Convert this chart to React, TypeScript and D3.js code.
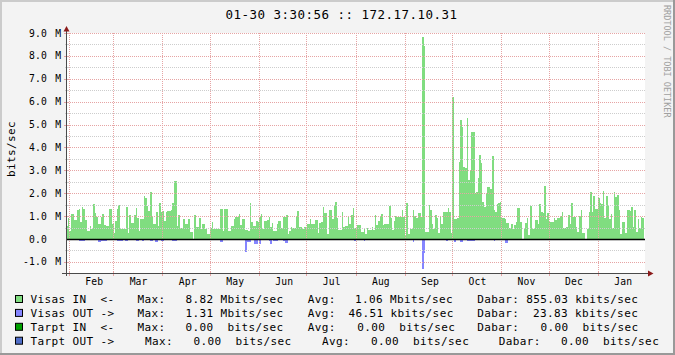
import React from "react";
import * as d3 from "d3";

const W = 675;
const H = 355;
const END = new Date(2011, 0, 30, 3, 30, 56);
const DAYS = 365;
const START = d3.timeDay.offset(END, -DAYS);

// Daily averages, Mbit/s
const visasIn: number[] = [
  0.57,
  0.93, 0.36, 1.09, 1.09, 0.83, 0.83, 1.27, 1.3, 0.76, 1.38,
  1.31, 0.83, 0.36, 0.36, 0.58, 0.44, 1.53, 1.15, 0.98, 0.65,
  0.65, 0.98, 1.09, 0.61, 0.57, 0.57, 1.31, 1.31, 0.64, 0.28,
  0.79, 1.3, 1.48, 0.42, 0.42, 0.45, 0.45, 1.41, 0.28, 1.05,
  0.68, 0.68, 1.05, 1.34, 0.9, 0.36, 0.86, 0.86, 1.88, 1.79,
  1.44, 1.24, 2.05, 0.98, 0.65, 0.65, 1.19, 0.57, 1.59, 1.19,
  1.22, 0.79, 1.16, 1.22, 1.22, 1.27, 1.59, 2.53, 2.53, 0.57,
  1.05, 0.49, 0.47, 0.86, 0.65, 0.64, 0.86, 0.32, 0.32, 0,
  1.05, 0.51, 0.51, 0.9, 0.44, 0.65, 0.65, 0.42, 0.22, 0.22,
  0.48,
  0.74, 0.42, 0.42, 0.42, 0.42, 1.3, 1.3, 0.35, 1.3, 1.3,
  0.35, 0.35, 0.57, 0.57, 0.86, 0.95, 0.95, 1.09, 0.61, 0.86,
  0.86, 0.39, 0.39, 0.35, 1.59, 0.76, 0.57, 0.57, 0.8, 0.76,
  0.98, 1.09, 0.42, 0.79, 0.79, 0.83, 0.98, 0.54, 0.68, 0.36,
  0.36, 0.65, 0.79, 0.79, 0.47, 0.95, 0.95, 1.05, 0.22, 0.35,
  0.54, 0.47, 0.47, 0.98, 1.24, 0.51, 0.51, 0.42, 0.54, 0.54,
  0.65, 0.65, 0.87, 0.65, 0.65, 0.83, 0.83, 0.28, 0.71, 0.76,
  1.41, 1.15, 1.15, 0.22, 1.27, 1.27, 0.86, 1.48, 1.6, 0.93,
  0.39, 0.39, 1.16, 0.54, 0.58, 0.58, 1.0, 0.65, 1.05, 1.34,
  0.47, 0.54, 0.61, 0.61, 0.32, 0.32, 0.42, 0.22, 0.47, 0.39,
  0.39, 0.51, 0.39, 1.05, 0.61, 0.79, 0.95, 1.09, 0.61, 0.65,
  0.65, 0.65, 1.44, 0.9, 0.39, 0.79, 1.0, 0.95, 0.95,
  0.98, 1.27, 0.98, 0.17, 1.56, 0.22, 0.42, 0.42, 1.27, 1.0,
  0.9, 1.12, 1.12, 0.98, 8.82, 8.43, 0.32, 0.32, 1.48, 1.27,
  0.66, 0.42, 1.05, 0.93, 0.28, 0.95, 0.66, 1.19, 1.19, 1.19,
  1.34, 1.19, 0.25, 6.22, 0.86, 0.86, 0.9, 3.38, 5.2, 4.9,
  3.16, 3.11, 5.27, 2.58, 3.01, 4.69, 4.69, 2.02, 2.07, 2.65,
  3.67, 3.3, 1.63, 1.41, 2.02, 2.29, 2.29, 2.17, 3.62, 1.27,
  1.19, 1.53, 1.56, 1.63, 0.9, 0.9, 0.86, 0.68, 0.71, 0.47,
  0.66, 0.42, 0.61, 0.76, 1.34,
  1.37, 0.76, 0, 0.48, 0.68, 0.93, 0.17, 1.46, 0.44, 0.44,
  0.83, 0.83, 0.65, 1.51, 1.19, 1.12, 2.31, 0.86, 1.12, 0.76,
  0.76, 0.76, 0.9, 0.83, 0.93, 0.93, 1.02, 1.16, 0.48, 0.48,
  0.54, 1.05, 0.65, 1.59, 0.98, 0.98, 0.54, 0.32, 1.0, 1.27,
  0.28, 0.28, 0, 0.44, 1.19, 2.07, 1.19, 1.88, 1.3, 1.3,
  1.8, 1.59, 1.53, 2.1, 0.9, 1.88, 1.46, 0.86, 1.08, 0.47,
  2.04, 1.85, 1.92, 1.27, 0.22, 0.73, 0.76, 0.28, 1.27, 1.27,
  1.24, 1.41, 0.54, 1.27, 0.32, 0.87, 0.47, 0.98, 0.9,
];

const visasOut: number[] = [
  0, 0, 0, 0, 0, 0, 0, 0, 0.07, 0.07,
  0.07, 0.07, 0, 0, 0, 0, 0, 0, 0, 0,
  0.12, 0.12, 0.07, 0.07, 0.07, 0.07, 0, 0, 0, 0,
  0.05, 0, 0.07, 0.07, 0.07, 0.07, 0, 0.07, 0.07, 0,
  0, 0, 0, 0, 0.07, 0.07, 0, 0, 0.07, 0,
  0, 0, 0, 0.07, 0.07, 0, 0.12, 0.12, 0, 0,
  0.07, 0.07, 0, 0, 0.06, 0, 0, 0.07, 0.07, 0.07,
  0, 0.05, 0, 0, 0, 0, 0, 0, 0, 0,
  0, 0, 0, 0, 0, 0, 0, 0, 0.06, 0,
  0, 0, 0, 0, 0, 0, 0, 0.12, 0.12, 0,
  0, 0, 0, 0, 0, 0, 0, 0, 0, 0,
  0, 0, 0, 0.55, 0.12, 0.12, 0.15, 0, 0, 0.22,
  0.22, 0.06, 0.23, 0.06, 0, 0, 0, 0, 0.07, 0.23,
  0, 0.07, 0.07, 0.09, 0, 0, 0, 0.09, 0.16, 0.16,
  0, 0, 0, 0, 0, 0, 0, 0, 0, 0,
  0, 0, 0, 0, 0, 0, 0, 0, 0, 0,
  0, 0.06, 0.06, 0.06, 0, 0, 0.06, 0, 0, 0,
  0.06, 0, 0, 0.06, 0, 0, 0, 0, 0, 0.06,
  0, 0, 0.09, 0, 0, 0.06, 0, 0, 0.07, 0,
  0, 0, 0, 0, 0, 0, 0, 0, 0, 0,
  0, 0, 0, 0, 0.06, 0, 0, 0, 0, 0,
  0, 0, 0, 0, 0, 0, 0, 0, 0, 0.12,
  0, 0, 0, 0, 0, 1.31, 0.63, 0, 0, 0,
  0, 0, 0, 0, 0, 0, 0, 0, 0, 0,
  0.07, 0, 0, 0, 0, 0.12, 0, 0, 0, 0.12,
  0.12, 0, 0, 0.07, 0.07, 0.07, 0.07, 0.07, 0, 0,
  0, 0, 0.06, 0, 0, 0, 0, 0, 0, 0,
  0.07, 0, 0, 0, 0, 0, 0, 0.16, 0.16, 0,
  0, 0, 0, 0, 0, 0, 0, 0, 0, 0,
  0, 0, 0, 0, 0, 0, 0, 0, 0, 0,
  0, 0, 0, 0, 0, 0, 0, 0, 0, 0,
  0.06, 0, 0, 0.06, 0.06, 0, 0, 0.06, 0.06, 0.06,
  0, 0, 0, 0, 0, 0, 0, 0, 0, 0,
  0, 0, 0, 0, 0, 0, 0.06, 0.06, 0.06, 0.06,
  0, 0, 0, 0, 0, 0, 0, 0.06, 0.06, 0,
  0.06, 0, 0.06, 0, 0.06, 0, 0, 0, 0, 0,
  0, 0, 0, 0, 0,
];

const Y_MIN = -1.485;
const Y_MAX = 9;
const yMajorTicks = [-1, 0, 1, 2, 3, 4, 5, 6, 7, 8, 9];
const yMinorTicks = [-1, -0.5, 0, 0.5, 1, 1.5, 2, 2.5, 3, 3.5, 4, 4.5, 5, 5.5, 6, 6.5, 7, 7.5, 8, 8.5, 9];

const TITLE = "01-30 3:30:56 :: 172.17.10.31";
const UNIT = "bits/sec";
const WATERMARK = "RRDTOOL / TOBI OETIKER";

const legendNames = ["Visas IN  <-", "Visas OUT ->", "Tarpt IN  <-", "Tarpt OUT ->"];
const legendColors = ["#80DD80", "#8585FF", "#00A000", "#506EC8"];
const legendMax = ["8.82 Mbits/sec", "1.31 Mbits/sec", "0.00  bits/sec", "0.00  bits/sec"];
const legendAvg = ["1.06 Mbits/sec", "46.51 kbits/sec", "0.00  bits/sec", "0.00  bits/sec"];
const legendNow = ["855.03 kbits/sec", "23.83 kbits/sec", "0.00  bits/sec", "0.00  bits/sec"];

// layout of legend columns per row
const legendCols = [
  [137.5, 185.5, 307.8, 355, 477.2, 526.2],
  [137.5, 185.5, 307.8, 348.6, 477.2, 533.1],
  [137.5, 185.5, 307.8, 357.3, 477.2, 540.5],
  [144.9, 193.5, 322, 371.1, 498.7, 561.1],
];

const MONO = "'DejaVu Sans Mono', monospace";
const GREEN = "#80DD80";
const BLUE = "#8585FF";
const MGRID = "#E6A4A4";
const GRID = "#CDCDCD";
const ARROW = "#8B1A1A";
const AXIS = "#4A4A4A";

type Pt = { t: Date; v: number };

export default function App() {
  const x = d3.scaleTime().domain([START, END]).range([66, 644]);
  const y = d3.scaleLinear().domain([Y_MIN, Y_MAX]).range([273, 33]);
  const plotL = 66;
  const plotR = 645;
  const plotT = 33;
  const plotB = 273;

  const inPts: Pt[] = visasIn.map((v, i) => ({ t: d3.timeDay.offset(START, i), v }));
  inPts.push({ t: END, v: visasIn[visasIn.length - 1] });
  const outPts: Pt[] = visasOut.map((v, i) => ({ t: d3.timeDay.offset(START, i), v: -v }));
  outPts.push({ t: END, v: -visasOut[visasOut.length - 1] });

  const area = d3
    .area<Pt>()
    .x((d) => x(d.t))
    .y0(y(0))
    .y1((d) => y(d.v))
    .curve(d3.curveStepAfter);

  const months = d3.timeMonth.range(START, END);
  const fmtMonth = d3.timeFormat("%b");

  const legendTextStyle: React.CSSProperties = { whiteSpace: "pre" };

  return (
    <>
      <style>{`body{margin:0;}`}</style>
      <svg width={W} height={H} style={{ display: "block" }} fontFamily={MONO}>
        <rect x={0} y={0} width={W} height={H} fill="#F3F3F3" />
        <rect x={0} y={0} width={W} height={2} fill="#CBCBCB" />
        <rect x={0} y={0} width={2} height={H} fill="#CBCBCB" />
        <rect x={W - 2} y={0} width={2} height={H} fill="#999999" />
        <rect x={0} y={H - 2} width={W} height={2} fill="#999999" />

        {/* canvas */}
        <rect x={plotL} y={plotT} width={plotR - plotL} height={plotB - plotT} fill="#FFFFFF" />

        {/* data */}
        <path d={area(inPts) || ""} fill={GREEN} shapeRendering="crispEdges" />
        <path d={area(outPts) || ""} fill={BLUE} shapeRendering="crispEdges" />

        {/* minor grid */}
        {yMinorTicks
          .filter((v) => !yMajorTicks.includes(v))
          .map((v) => (
            <g key={"mi" + v}>
              <line x1={plotL} x2={plotR} y1={Math.round(y(v)) + 0.5} y2={Math.round(y(v)) + 0.5} stroke={GRID} strokeDasharray="1,1" />
              <line x1={65} x2={68} y1={Math.round(y(v)) + 0.5} y2={Math.round(y(v)) + 0.5} stroke={GRID} />
            </g>
          ))}
        {/* major grid */}
        {yMajorTicks
          .filter((v) => v !== 0)
          .map((v) => (
            <g key={"ma" + v}>
              <line x1={plotL} x2={plotR} y1={Math.round(y(v)) + 0.5} y2={Math.round(y(v)) + 0.5} stroke={MGRID} strokeDasharray="1,1" />
              <line x1={64} x2={69} y1={Math.round(y(v)) + 0.5} y2={Math.round(y(v)) + 0.5} stroke={MGRID} />
            </g>
          ))}
        {months.map((m) => (
          <g key={"vm" + m.getTime()}>
            <line x1={Math.round(x(m)) + 0.5} x2={Math.round(x(m)) + 0.5} y1={plotT} y2={plotB} stroke={MGRID} strokeDasharray="1,1" />
            <line x1={Math.round(x(m)) + 0.5} x2={Math.round(x(m)) + 0.5} y1={plotB - 2} y2={plotB + 3} stroke={MGRID} />
          </g>
        ))}

        {/* zero line */}
        <line x1={plotL} x2={plotR} y1={Math.round(y(0)) + 0.5} y2={Math.round(y(0)) + 0.5} stroke="#000" strokeWidth={1.3} />

        {/* axes */}
        <line x1={66.5} x2={66.5} y1={plotB + 3} y2={29} stroke={AXIS} />
        <line x1={62} x2={649} y1={plotB + 0.5} y2={plotB + 0.5} stroke={AXIS} />
        <path d={`M63.5,31.5 L69.5,31.5 L66.5,26 Z`} fill={ARROW} />
        <path d={`M648,270.5 L648,276.5 L653.5,273.5 Z`} fill={ARROW} />

        {/* y tick labels */}
        {yMajorTicks.map((v) => (
          <g key={"yl" + v} fontSize={9.7} letterSpacing={0.15} fill="#000">
            <text x={47} y={y(v) + 3.6} textAnchor="end">
              {v.toFixed(1)}
            </text>
            {v !== 0 && (
              <text x={61.2} y={y(v) + 3.6} textAnchor="end">
                M
              </text>
            )}
          </g>
        ))}

        {/* month labels */}
        {months.map((m) => (
          <text
            key={"ml" + m.getTime()}
            x={x(d3.timeDay.offset(m, 16))}
            y={284.5}
            textAnchor="middle"
            fontSize={9.7}
            letterSpacing={0.15}
            fill="#000"
          >
            {fmtMonth(m)}
          </text>
        ))}

        {/* title */}
        <text x={341.5} y={18.5} textAnchor="middle" fontSize={12.5} letterSpacing={0.47} fill="#000">
          {TITLE}
        </text>

        {/* unit */}
        <text
          transform={`translate(15,149) rotate(-90)`}
          textAnchor="middle"
          fontSize={11}
          letterSpacing={0.38}
          fill="#000"
        >
          {UNIT}
        </text>

        {/* watermark */}
        <text transform={`translate(663.5,5) rotate(90)`} fontSize={8.5} fill="#A0A0A0">
          {WATERMARK}
        </text>

        {/* legend */}
        {legendNames.map((name, i) => {
          const by = 295 + i * 13.9;
          const ty = by + 8.3;
          const c = legendCols[i];
          return (
            <g key={"lg" + i} fontSize={11} letterSpacing={0.38} fill="#000" style={legendTextStyle}>
              <rect x={15.5} y={by + 0.5} width={7} height={7} fill={legendColors[i]} stroke="#000" />
              <text x={30.5} y={ty} xmlSpace="preserve" style={legendTextStyle}>{name}</text>
              <text x={c[0]} y={ty}>Max:</text>
              <text x={c[1]} y={ty} xmlSpace="preserve" style={legendTextStyle}>{legendMax[i]}</text>
              <text x={c[2]} y={ty}>Avg:</text>
              <text x={c[3]} y={ty} xmlSpace="preserve" style={legendTextStyle}>{legendAvg[i]}</text>
              <text x={c[4]} y={ty}>Dabar:</text>
              <text x={c[5]} y={ty} xmlSpace="preserve" style={legendTextStyle}>{legendNow[i]}</text>
            </g>
          );
        })}
      </svg>
    </>
  );
}
